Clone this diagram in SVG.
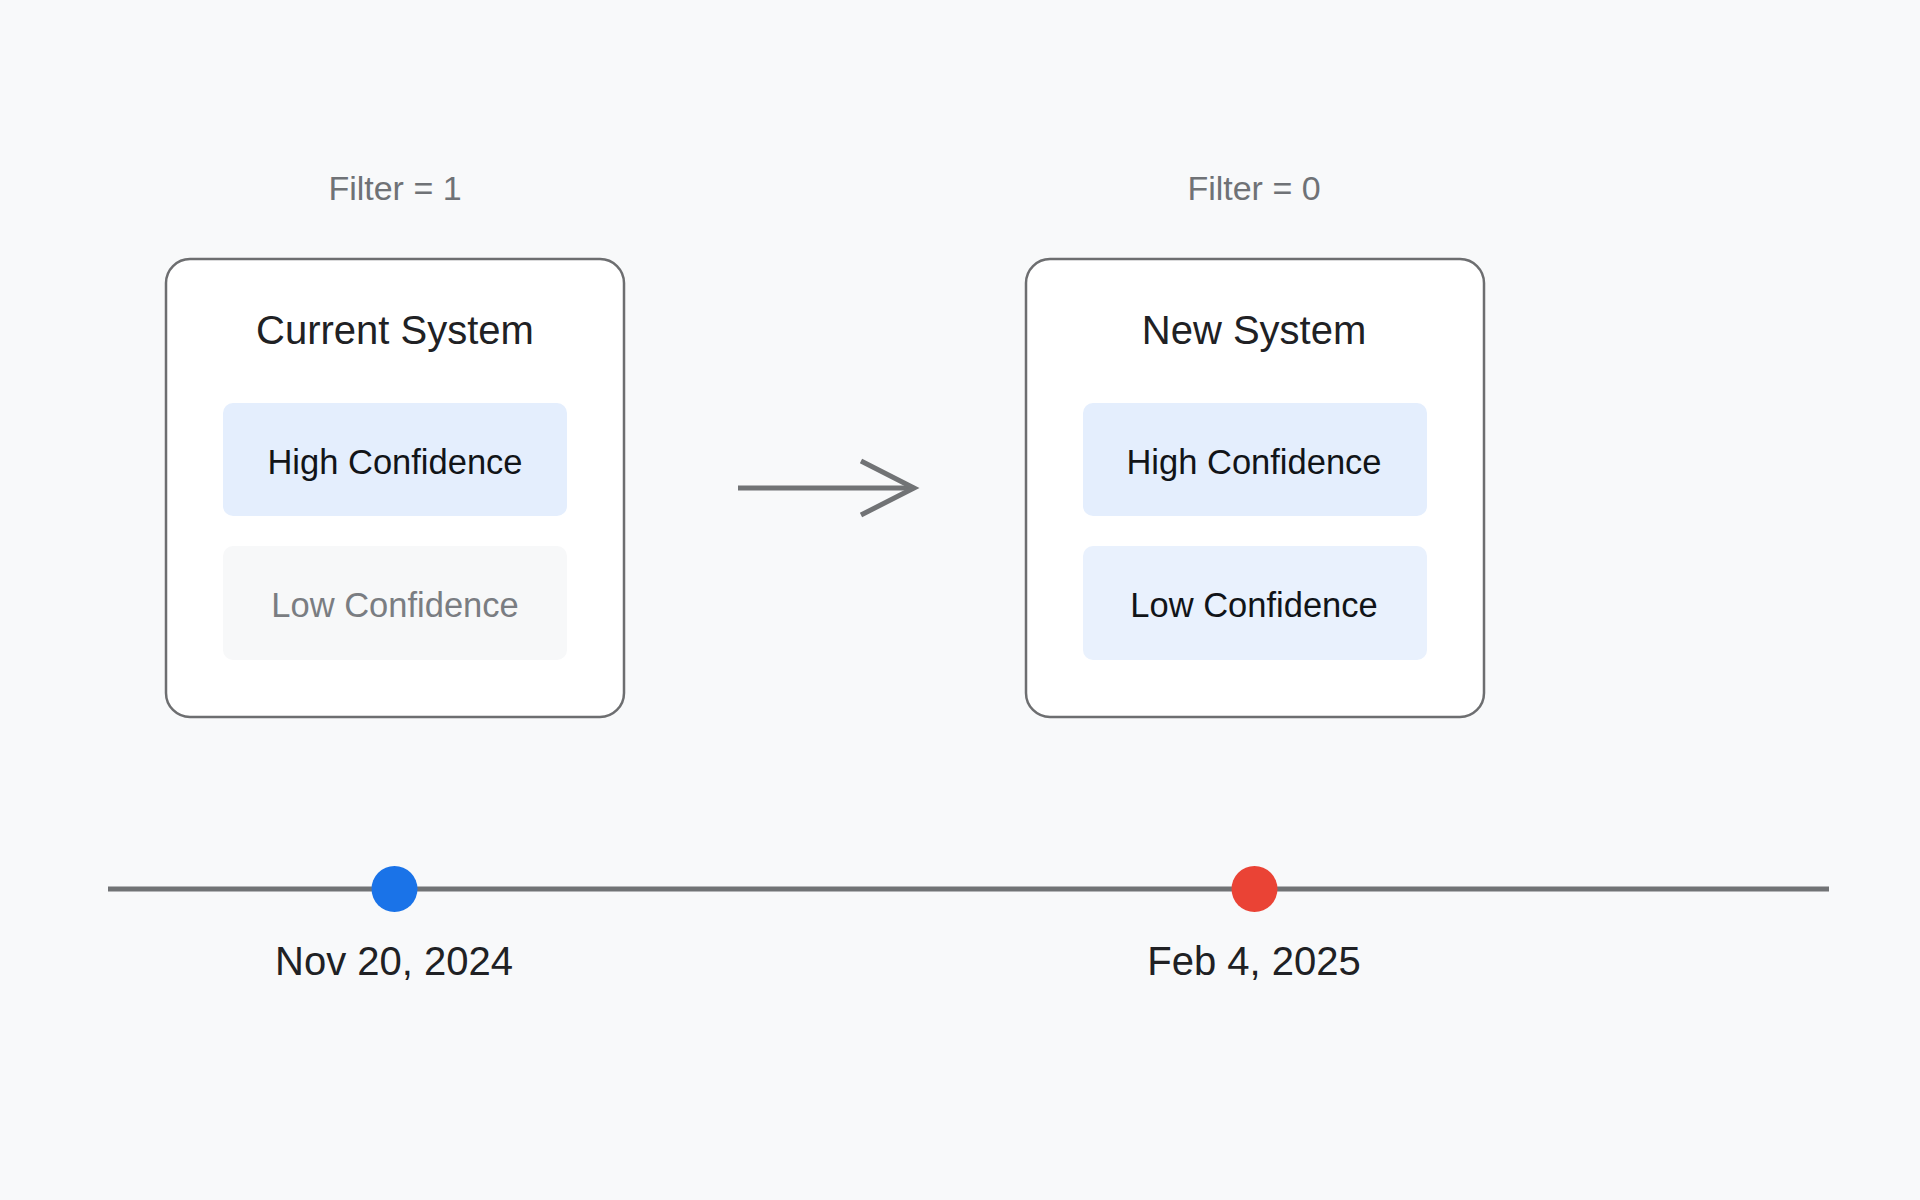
<svg xmlns="http://www.w3.org/2000/svg" width="1920" height="1200" viewBox="0 0 1920 1200">
<style>
text{font-family:"Liberation Sans",Arial,Helvetica,sans-serif;text-anchor:middle}
.filter{font-size:34px;fill:#6f7276}
.title{font-size:40px;fill:#202124}
.item{font-size:34.5px;fill:#111418}
.dim{font-size:34.5px;fill:#7a7d82}
.date{font-size:40px;fill:#202124}
.panel{fill:#ffffff;stroke:#6d6e70;stroke-width:2.5}
.hi{fill:#e4eefd}
.lo{fill:#e9f1fd}
.off{fill:#f7f8f9}
.conn{fill:none;stroke:#717375;stroke-width:5;stroke-linecap:butt;stroke-linejoin:miter}
</style>
<rect x="0" y="0" width="1920" height="1200" fill="#f8f9fa"/>
<g id="current-system">
<text class="filter" x="395" y="200">Filter = 1</text>
<rect class="panel" x="166" y="259" width="458" height="458" rx="24"/>
<text class="title" x="395" y="344">Current System</text>
<g id="current-high"><rect class="hi" x="223" y="403" width="344" height="113" rx="10"/><text class="item" x="395" y="474">High Confidence</text></g>
<g id="current-low"><rect class="off" x="223" y="546" width="344" height="114" rx="10"/><text class="dim" x="395" y="617">Low Confidence</text></g>
</g>
<g id="new-system">
<text class="filter" x="1254" y="200">Filter = 0</text>
<rect class="panel" x="1026" y="259" width="458" height="458" rx="24"/>
<text class="title" x="1254" y="344">New System</text>
<g id="new-high"><rect class="hi" x="1083" y="403" width="344" height="113" rx="10"/><text class="item" x="1254" y="474">High Confidence</text></g>
<g id="new-low"><rect class="lo" x="1083" y="546" width="344" height="114" rx="10"/><text class="item" x="1254" y="617">Low Confidence</text></g>
</g>
<g id="connectors">
<line class="conn" x1="738" y1="488" x2="914" y2="488"/>
<polyline class="conn" points="861,461 914,488 861,515"/>
<line id="timeline" x1="108" y1="889" x2="1829" y2="889" stroke="#717375" stroke-width="5"/>
</g>
<g id="milestone-nov">
<circle cx="394.5" cy="889" r="23" fill="#1a73e8"/>
<text class="date" x="394" y="975">Nov 20, 2024</text>
</g>
<g id="milestone-feb">
<circle cx="1254.5" cy="889" r="23" fill="#ea4335"/>
<text class="date" x="1254" y="975">Feb 4, 2025</text>
</g>
</svg>
